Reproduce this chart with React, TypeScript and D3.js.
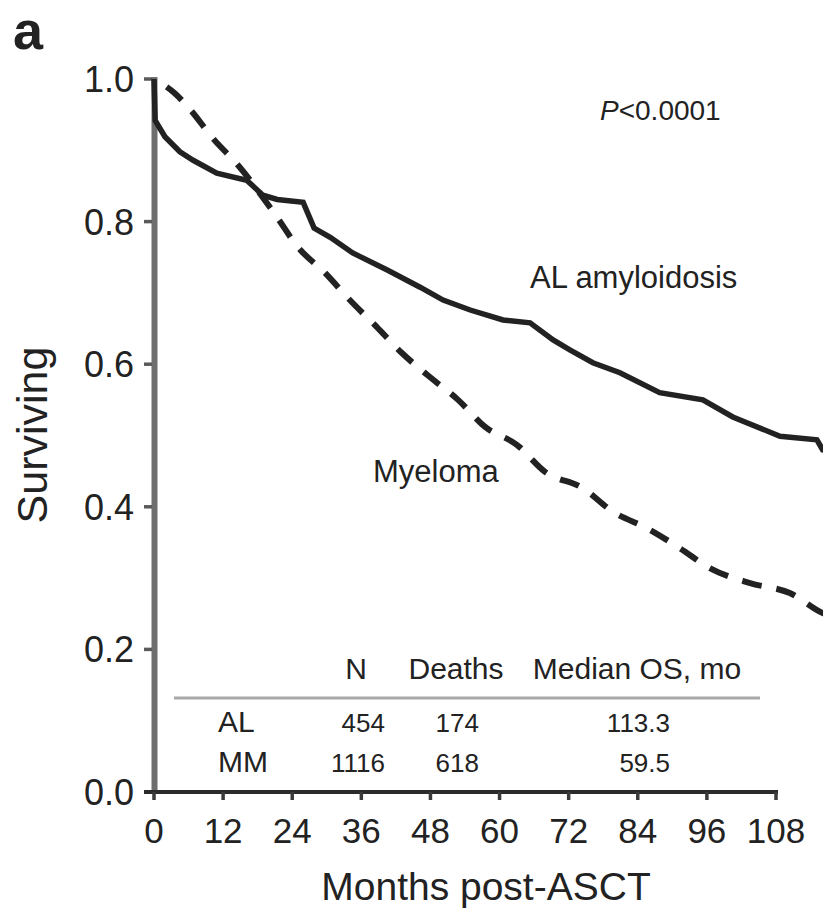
import React from "react";
import * as d3 from "d3";

// Kaplan–Meier overall survival after ASCT
const alMonths = [0, 0.2, 1.9, 4.5, 6.8, 10.9, 16.1, 18.9, 21.4, 25.9, 27.8, 30.6, 34.5, 40.5, 46.2, 50.2, 54.9, 60.6, 65.3, 69.3, 72.2, 76.2, 80.9, 87.8, 95.3, 100.5, 108.7, 115.1, 116.1, 118];
const alSurvival = [1.0, 0.942, 0.919, 0.898, 0.886, 0.868, 0.858, 0.837, 0.831, 0.827, 0.791, 0.778, 0.756, 0.732, 0.708, 0.69, 0.676, 0.662, 0.658, 0.634, 0.62, 0.602, 0.588, 0.56, 0.55, 0.526, 0.499, 0.494, 0.48, 0.476];

const mmMonths = [0, 3.6, 6.3, 10.2, 14.6, 21.2, 25, 29.7, 34, 38.7, 43, 47.9, 52.8, 57.5, 63, 67.9, 74.5, 79.7, 85.6, 91.3, 96.5, 103.5, 110.4, 116.1, 118];
const mmSurvival = [1.0, 0.98, 0.957, 0.917, 0.879, 0.808, 0.764, 0.728, 0.69, 0.652, 0.616, 0.582, 0.55, 0.512, 0.487, 0.449, 0.426, 0.393, 0.37, 0.342, 0.314, 0.293, 0.279, 0.251, 0.245];

const xTicks = [0, 12, 24, 36, 48, 60, 72, 84, 96, 108];
const yTicks = [0, 0.2, 0.4, 0.6, 0.8, 1.0];

const tableHeaders = ["N", "Deaths", "Median OS, mo"];
const tableGroups = ["AL", "MM"];
const tableN = ["454", "1116"];
const tableDeaths = ["174", "618"];
const tableMedian = ["113.3", "59.5"];

const FONT = "'Liberation Sans', Arial, Helvetica, sans-serif";
const INK = "#222";

export default function App() {
  const x = d3.scaleLinear().domain([0, 108]).range([154, 776]);
  const y = d3.scaleLinear().domain([0, 1]).range([792, 79]);

  const solidLine = d3
    .line<number>()
    .x((_, i) => x(alMonths[i]))
    .y((d) => y(d))
    .curve(d3.curveLinear);

  const dashedLine = d3
    .line<number>()
    .x((_, i) => x(mmMonths[i]))
    .y((d) => y(d))
    .curve(d3.curveMonotoneX);

  const headerX = [356, 456, 637];
  const rowY = [732, 772];

  return (
    <svg
      width={823}
      height={909}
      style={{ position: "absolute", left: 0, top: 0, background: "#fff" }}
      fontFamily={FONT}
    >
      <rect x={0} y={0} width={823} height={909} fill="#fff" />

      {/* panel letter */}
      <text x={13} y={49} fontSize={54} fontWeight="bold" fill={INK}>
        a
      </text>

      {/* y axis */}
      <line x1={154.5} x2={154.5} y1={y(1) - 2} y2={y(0)} stroke="#6e6e6e" strokeWidth={6} />
      {yTicks.map((t) => (
        <g key={`yt${t}`}>
          <line x1={144} x2={152} y1={y(t)} y2={y(t)} stroke="#5a5a5a" strokeWidth={3.5} />
          <text
            x={134}
            y={y(t)}
            dy="0.36em"
            textAnchor="end"
            fontSize={36}
            fill={INK}
          >
            {d3.format(".1f")(t)}
          </text>
        </g>
      ))}

      {/* x axis */}
      <line x1={144} x2={778} y1={y(0)} y2={y(0)} stroke="#2b2b2b" strokeWidth={4} />
      {xTicks.map((t) => (
        <g key={`xt${t}`}>
          <line x1={x(t)} x2={x(t)} y1={y(0)} y2={y(0) + 8} stroke="#3a3a3a" strokeWidth={3.5} />
          <text x={x(t)} y={843} textAnchor="middle" fontSize={35} fill={INK}>
            {t}
          </text>
        </g>
      ))}

      {/* axis titles */}
      <text x={486} y={900} textAnchor="middle" fontSize={39} fill={INK}>
        Months post-ASCT
      </text>
      <text
        transform="translate(47,435) rotate(-90)"
        textAnchor="middle"
        fontSize={43}
        fill={INK}
      >
        Surviving
      </text>

      {/* survival curves */}
      <path
        d={dashedLine(mmSurvival) ?? ""}
        fill="none"
        stroke="#222"
        strokeWidth={6}
        strokeDasharray="20 15"
        strokeDashoffset={20}
      />
      <path
        d={solidLine(alSurvival) ?? ""}
        fill="none"
        stroke="#222"
        strokeWidth={5.5}
        strokeLinejoin="miter"
      />

      {/* annotations */}
      <text x={600} y={120} fontSize={28} fill={INK}>
        <tspan fontStyle="italic">P</tspan>
        <tspan>&lt;0.0001</tspan>
      </text>
      <text x={530} y={288} fontSize={31} fill={INK}>
        AL amyloidosis
      </text>
      <text x={373} y={482} fontSize={31} fill={INK}>
        Myeloma
      </text>

      {/* summary table */}
      {tableHeaders.map((h, i) => (
        <text key={h} x={headerX[i]} y={679} textAnchor="middle" fontSize={30} fill={INK}>
          {h}
        </text>
      ))}
      <line x1={174} x2={760} y1={698} y2={698} stroke="#a9a9a9" strokeWidth={3} />
      {tableGroups.map((g, i) => (
        <g key={g}>
          <text x={218} y={rowY[i]} fontSize={30} fill={INK}>
            {g}
          </text>
          <text x={385} y={rowY[i]} textAnchor="end" fontSize={26} fill={INK}>
            {tableN[i]}
          </text>
          <text x={479} y={rowY[i]} textAnchor="end" fontSize={26} fill={INK}>
            {tableDeaths[i]}
          </text>
          <text x={670} y={rowY[i]} textAnchor="end" fontSize={26} fill={INK}>
            {tableMedian[i]}
          </text>
        </g>
      ))}
    </svg>
  );
}
